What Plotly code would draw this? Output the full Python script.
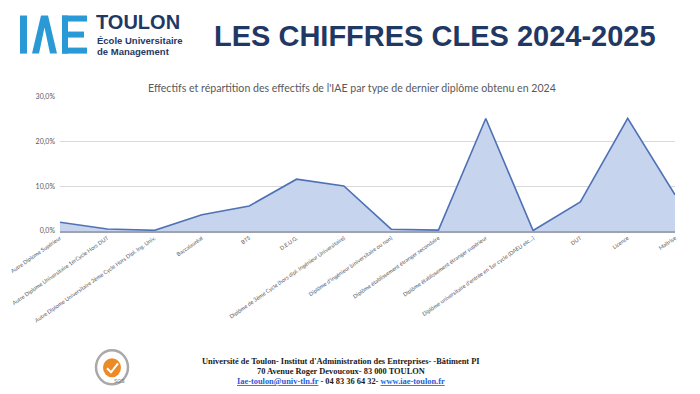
import plotly.graph_objects as go

categories = [
    "Autre Diplome Supérieur",
    "Autre Diplome Universitaire 1erCycle Hors DUT",
    "Autre Diplome Universitaire 2ème Cycle Hors Dipl. Ing. Univ.",
    "Baccalauréat",
    "BTS",
    "D.E.U.G.",
    "Diplôme de 3ème Cycle (hors dipl. Ingénieur Universitaire)",
    "Diplôme d'ingénieur (universitaire ou non)",
    "Diplôme établissement étranger secondaire",
    "Diplôme établissement étranger supérieur",
    "Diplôme universitaire d'entrée en 1er cycle (DAEU etc...)",
    "DUT",
    "Licence",
    "Maîtrise",
]
values = [1.95, 0.45, 0.15, 3.65, 5.6, 11.6, 10.1, 0.4, 0.2, 25.2, 0.1, 6.5, 25.2, 8.1]
y_tickvals = [0, 10, 20, 30]
y_ticktext = ["0,0%", "10,0%", "20,0%", "30,0%"]

# page offset of the figure inside the browser (default body margin)
OX, OY = 8, 8
W, H = 700 - OX, 394 - OY
# plot area in window pixels
PX0, PX1, PY0, PY1 = 60, 675, 97.3, 231
L, R, T, B = PX0 - OX, W - (PX1 - OX), PY0 - OY, H - (PY1 - OY)
PW, PH = W - L - R, H - T - B


def px(x):
    return (x - OX - L) / PW


def py(y):
    return (H - B - (y - OY)) / PH


fig = go.Figure()
fig.add_trace(go.Scatter(
    x=categories, y=values, mode="lines", fill="tozeroy",
    fillcolor="#c6d4ee", line=dict(color="#4f71b5", width=1.6),
    hoverinfo="skip",
))

fig.update_layout(
    width=W, height=H, margin=dict(l=L, r=R, t=T, b=B, autoexpand=False),
    paper_bgcolor="white", plot_bgcolor="white", showlegend=False,
    xaxis=dict(type="category", range=[0, len(categories) - 1], showgrid=False,
               tickangle=-35, tickfont=dict(family="Lato, sans-serif", size=5.5, color="#595959"),
               showline=True, linecolor="#9ea3ad", linewidth=1.6, ticks="", zeroline=False),
    yaxis=dict(range=[0, 30], tickvals=y_tickvals, ticktext=y_ticktext,
               tickfont=dict(family="Lato, sans-serif", size=7, color="#595959"),
               showgrid=True, gridcolor="#d9d9d9", gridwidth=1, zeroline=False,
               showline=False, ticks="", ticklabelstandoff=4),
)

shapes = []
blue = "#2a9ad6"
# IAE logo: I
shapes.append(dict(type="rect", x0=px(20), x1=px(27), y0=py(16), y1=py(54)))
# Lambda
shapes.append(dict(type="path",
                   path=f"M {px(32)},{py(54)} L {px(41)},{py(16)} L {px(48)},{py(16)} L {px(57)},{py(54)} "
                        f"L {px(50)},{py(54)} L {px(44.5)},{py(28)} L {px(39)},{py(54)} Z"))
# E
shapes.append(dict(type="rect", x0=px(62), x1=px(68), y0=py(16), y1=py(54)))
shapes.append(dict(type="rect", x0=px(62), x1=px(87), y0=py(16), y1=py(22)))
shapes.append(dict(type="rect", x0=px(62), x1=px(84), y0=py(32), y1=py(38)))
shapes.append(dict(type="rect", x0=px(62), x1=px(87), y0=py(48), y1=py(54)))
for s in shapes:
    s.update(xref="paper", yref="paper", fillcolor=blue, line=dict(width=0), layer="above")

# SGS badge
badge = [
    dict(type="circle", x0=px(96), x1=px(128), y0=py(384), y1=py(350),
         line=dict(color="#a9a9a9", width=2.5), fillcolor="rgba(0,0,0,0)"),
    dict(type="circle", x0=px(103), x1=px(121), y0=py(377), y1=py(358),
         line=dict(width=0), fillcolor="#ec8a25"),
    dict(type="path", path=f"M {px(107)},{py(368)} L {px(111)},{py(372)} L {px(118)},{py(363)}",
         line=dict(color="white", width=2), fillcolor="rgba(0,0,0,0)"),
]
for s in badge:
    s.update(xref="paper", yref="paper", layer="above")
fig.update_layout(shapes=shapes + badge)

navy = "#1f3864"
ann = [
    dict(x=px(94), y=py(22), text="<b>TOULON</b>", font=dict(family="Liberation Sans, Arial", size=20, color=navy),
         xanchor="left", yanchor="middle"),
    dict(x=px(95), y=py(41), text="<b>École Universitaire</b>", font=dict(family="Liberation Sans, Arial", size=9.5, color=navy),
         xanchor="left", yanchor="middle"),
    dict(x=px(95), y=py(52), text="<b>de Management</b>", font=dict(family="Liberation Sans, Arial", size=9.5, color=navy),
         xanchor="left", yanchor="middle"),
    dict(x=px(435), y=py(36), text="<b>LES CHIFFRES CLES 2024-2025</b>",
         font=dict(family="Liberation Sans, Arial", size=29, color=navy), xanchor="center", yanchor="middle"),
    dict(x=px(352), y=py(88), text="Effectifs et répartition des effectifs de l'IAE par type de dernier diplôme obtenu en 2024",
         font=dict(family="Lato, sans-serif", size=10.6, color="#595959"), xanchor="center", yanchor="middle"),
    dict(x=px(341), y=py(361), text="<b>Université de Toulon- Institut d'Administration des Entreprises- -Bâtiment PI</b>",
         font=dict(family="Liberation Serif, serif", size=8.4, color="#1a1a1a"), xanchor="center", yanchor="middle"),
    dict(x=px(341), y=py(371), text="<b>70 Avenue Roger Devoucoux- 83 000 TOULON</b>",
         font=dict(family="Liberation Serif, serif", size=8.4, color="#1a1a1a"), xanchor="center", yanchor="middle"),
    dict(x=px(341), y=py(381),
         text="<b><span style='color:#2a5bd7'><u>Iae-toulon@univ-tln.fr</u></span> - 04 83 36 64 32- "
              "<span style='color:#2a5bd7'><u>www.iae-toulon.fr</u></span></b>",
         font=dict(family="Liberation Serif, serif", size=8.4, color="#1a1a1a"), xanchor="center", yanchor="middle"),
    dict(x=px(112), y=py(381), text="SGS", font=dict(family="Liberation Sans, Arial", size=5, color="#777777"),
         xanchor="left", yanchor="middle"),
]
for a in ann:
    a.update(xref="paper", yref="paper", showarrow=False)
fig.update_layout(annotations=ann)

fig.write_html("out.html")
